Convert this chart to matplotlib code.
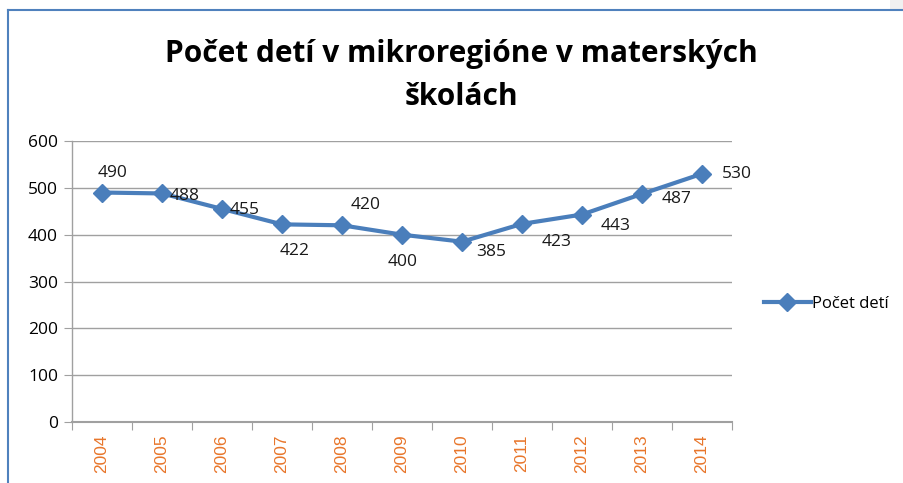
import matplotlib.pyplot as plt
from matplotlib.lines import Line2D
import numpy as np

years = ['2004', '2005', '2006', '2007', '2008', '2009', '2010', '2011', '2012', '2013', '2014']
counts = [490, 488, 455, 422, 420, 400, 385, 423, 443, 487, 530]
# label offsets in pixels (dx, dy with dy downward)
label_offsets = [(11, -20), (23, 3), (23, 1), (13, 27), (24, -20), (1, 27),
                 (29, 10), (35, 18), (34, 11), (35, 5), (35, 0)]

W, H = 904, 483
fig = plt.figure(figsize=(W / 100, H / 100), dpi=100)
fig.patch.set_facecolor('white')

# frame of the embedded chart
fig.add_artist(plt.Rectangle((890 / W, 1 - 10 / H), 14 / W, 10 / H,
                             transform=fig.transFigure, color='#f0f0f0', lw=0))
fig.add_artist(Line2D([8 / W, 1], [1 - 10 / H, 1 - 10 / H], transform=fig.transFigure,
                      color='#4f81bd', lw=1.5))
fig.add_artist(Line2D([8 / W, 8 / W], [0, 1 - 10 / H], transform=fig.transFigure,
                      color='#4f81bd', lw=1.5))

ax = fig.add_axes([72 / W, 1 - 422 / H, 660 / W, 281 / H])
x = np.arange(len(years))
line_color = '#4a7ebb'
ax.plot(x, counts, color=line_color, lw=3, marker='D', markersize=9,
        markeredgecolor=line_color, label='Počet detí', zorder=3)

ax.set_xlim(-0.5, len(years) - 0.5)
ax.set_ylim(0, 600)
ax.set_yticks(range(0, 601, 100))
ax.yaxis.grid(True, color='#a0a0a0', lw=1)
ax.set_axisbelow(True)
for s in ['top', 'right']:
    ax.spines[s].set_visible(False)
ax.spines['left'].set_color('#a0a0a0')
ax.spines['bottom'].set_color('#a0a0a0')
ax.spines['left'].set_linewidth(1)
ax.spines['bottom'].set_linewidth(1.5)

ax.set_xticks(np.arange(-0.5, len(years), 1), minor=False)
ax.set_xticklabels([])
ax.set_xticks(x, minor=True)
ax.set_xticklabels(years, minor=True, rotation=90, color='#e8762b',
                   fontsize=12.5, family='Liberation Sans')
ax.tick_params(axis='x', which='major', length=6, color='#a0a0a0', direction='out')
ax.tick_params(axis='x', which='minor', length=0, pad=9)
ax.tick_params(axis='y', length=6, color='#a0a0a0', labelsize=12.5, pad=4)
for t in ax.get_yticklabels():
    t.set_family('Open Sans')

for xi, val, (dx, dy) in zip(x, counts, label_offsets):
    ax.annotate(str(val), (xi, val), xytext=(dx * 0.72, -dy * 0.72),
                textcoords='offset points', ha='center', va='center',
                fontsize=12.5, family='Open Sans', color='#1a1a1a')

fig.text(461 / W, 1 - 54 / H, 'Počet detí v mikroregióne v materských',
         ha='center', va='center', fontsize=21.5, fontweight='bold', family='Open Sans')
fig.text(461 / W, 1 - 97 / H, 'školách',
         ha='center', va='center', fontsize=21.5, fontweight='bold', family='Open Sans')

fig.legend(handles=[Line2D([], [], color=line_color, lw=3, marker='D', markersize=9)],
           labels=['Počet detí'], loc='center left', bbox_to_anchor=(749 / W, 1 - 304 / H),
           frameon=False, handlelength=2.8, handletextpad=0.1,
           prop={'family': 'Open Sans', 'size': 12})

fig.savefig('out.png', dpi=100)
